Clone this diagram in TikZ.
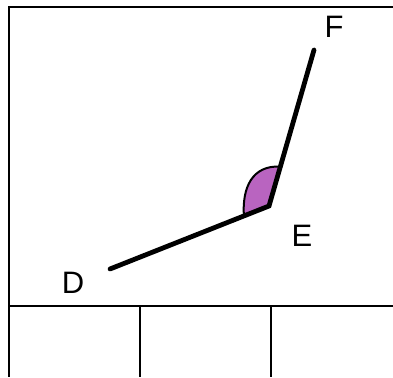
\documentclass[tikz,border=0pt]{standalone}
\usepackage{fontspec}
\setmainfont{Liberation Sans}
\usepackage{xcolor}
\usetikzlibrary{positioning,calc}
\definecolor{anglefill}{RGB}{185,100,192}

\begin{document}
\begin{tikzpicture}[
  x=1pt, y=-1pt,
  every node/.style={font=\fontsize{31}{33}\selectfont},
  frame/.style={draw=black, line width=2.8pt},
  arm/.style={draw=black, line width=4.8pt, line cap=round},
  wedge/.style={fill=anglefill, draw=black, line width=2pt}
]
\useasboundingbox (0,0) rectangle (393,377);
% points of the angle
\coordinate (d) at (110,269);
\coordinate (e) at (269,206);
\coordinate (f) at (314,50);
\coordinate (wa) at ($(e)!27pt!(d)$);
\coordinate (wb) at ($(e)!41pt!(f)$);

% outer frame and bottom cells
\coordinate (tl) at (9,7);
\coordinate (tr) at (393,7);
\coordinate (bl) at (9,377);
\coordinate (ml) at (9,306);
\coordinate (mr) at (393,306);
\coordinate (c1) at (140,306);
\coordinate (c2) at (271,306);
\draw[frame] (tr) -- (tl) -- (bl);
\draw[frame] (ml) -- (mr);
\draw[frame] (c1) -- (c1 |- bl);
\draw[frame] (c2) -- (c2 |- bl);

% angle marker
\fill[anglefill] (e) -- (wa) .. controls (242,188) and (252,165) .. (wb) -- cycle;
\draw[wedge, fill=none] (wa) .. controls (242,188) and (252,165) .. (wb);

\draw[arm] (d) -- (e) -- (f);

\node (labD) at (73,283) {D};
\node (labE) at (302,236) {E};
\node (labF) at (334,27) {F};
\end{tikzpicture}
\end{document}
